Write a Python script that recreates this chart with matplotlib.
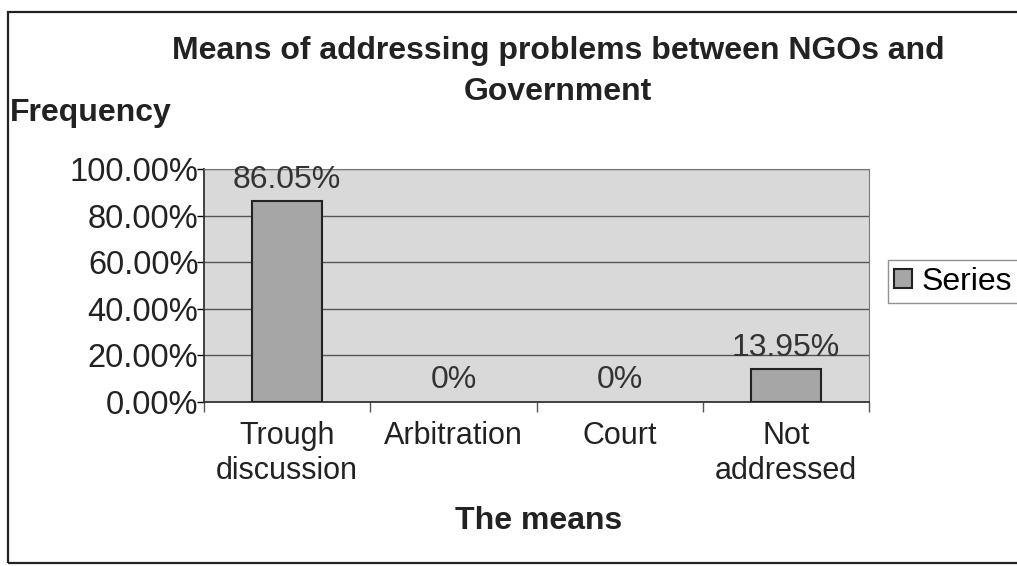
import matplotlib.pyplot as plt
from matplotlib.patches import Rectangle

# Survey results
means = ["Trough\ndiscussion", "Arbitration", "Court", "Not\naddressed"]
share = [86.05, 0.0, 0.0, 13.95]
share_labels = ["86.05%", "0%", "0%", "13.95%"]
yticks = [0, 20, 40, 60, 80, 100]
series_name = "Series"

plt.rcParams["font.family"] = ["Liberation Sans", "DejaVu Sans"]

fig = plt.figure(figsize=(10.17, 5.66), dpi=100)
ax = fig.add_axes([0.2006, 0.2898, 0.6539, 0.4117])
ax.set_facecolor("#d9d9d9")

x = range(len(means))
edges = ["#222222" if v > 0 else "none" for v in share]
bars = ax.bar(x, share, width=0.42, color="#a6a6a6", edgecolor=edges,
              linewidth=1.5, label=series_name, zorder=3)

# value labels above each bar
for xi, v, lab in zip(x, share, share_labels):
    ax.annotate(lab, (xi, v), xytext=(0, 5), textcoords="offset points",
                ha="center", va="bottom", fontsize=23, color="#333333")

ax.set_xlim(-0.5, len(means) - 0.5)
ax.set_ylim(0, 100)
ax.set_yticks(yticks)
ax.set_yticklabels([f"{t:.2f}%" for t in yticks], fontsize=23.5, color="#222222")
ax.yaxis.grid(True, color="#555555", linewidth=1.0, zorder=1)
ax.tick_params(axis="y", length=5, width=1, pad=-1, direction="out")

# category labels centred, tick marks at category boundaries
ax.set_xticks(list(x))
ax.set_xticklabels(means, fontsize=22, color="#222222", linespacing=1.2)
ax.tick_params(axis="x", length=0, pad=14)
ax.set_xticks([i - 0.5 for i in range(len(means) + 1)], minor=True)
ax.tick_params(axis="x", which="minor", length=7, width=1, color="#555555")

for side in ["top", "right"]:
    ax.spines[side].set_color("#777777")
ax.spines["left"].set_color("#333333")
ax.spines["bottom"].set_color("#333333")
ax.spines["left"].set_linewidth(1.3)
ax.spines["bottom"].set_linewidth(1.3)

fig.text(0.549, 0.874, "Means of addressing problems between NGOs and\nGovernment",
         ha="center", va="center", fontsize=23, fontweight="bold",
         linespacing=1.5, color="#222222")
fig.text(0.010, 0.800, "Frequency", ha="left", va="center", fontsize=23,
         fontweight="bold", color="#222222")
fig.text(0.530, 0.0795, "The means", ha="center", va="center", fontsize=23,
         fontweight="bold", color="#222222")

leg = fig.legend(loc="center left", bbox_to_anchor=(0.873, 0.502), fontsize=23,
                 frameon=True, fancybox=False, edgecolor="#777777",
                 handlelength=0.55, handleheight=0.55, handletextpad=0.3,
                 borderpad=0.2, borderaxespad=0)
leg.get_frame().set_linewidth(1.0)

# outer chart border
fig.patches.append(Rectangle((0.008, 0.005), 1.2, 0.974, transform=fig.transFigure,
                             fill=False, edgecolor="#222222", linewidth=1.6))

fig.savefig("out.png", dpi=100, facecolor="white")
